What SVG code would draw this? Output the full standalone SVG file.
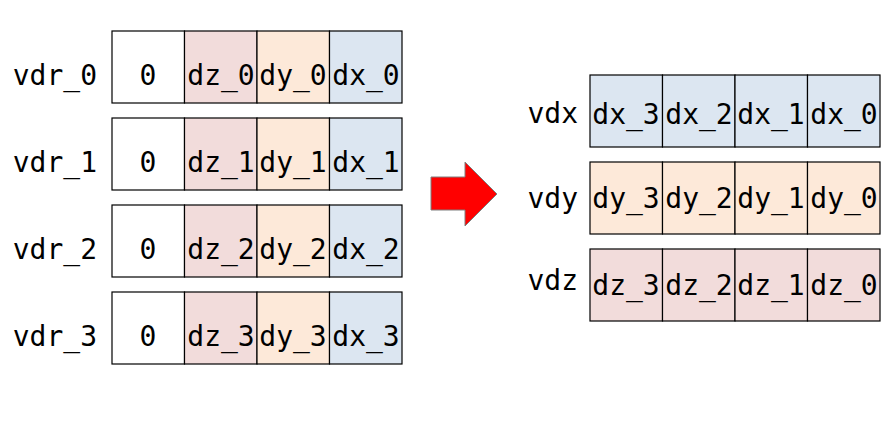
<svg xmlns="http://www.w3.org/2000/svg" width="891" height="424" viewBox="0 0 891 424">
<style>
.c{stroke:#000;stroke-width:1.2}
.w{fill:#fff}.z{fill:#F2DCDB}.y{fill:#FDE9D9}.x{fill:#DCE6F1}
text{font-family:"DejaVu Sans Mono","Liberation Mono",monospace;font-size:28px;fill:#000}
.m{text-anchor:middle}.e{text-anchor:end}
</style>
<rect width="891" height="424" fill="#fff"/>
<g id="vdr_0">
<text class="e" x="97" y="85">vdr_0</text>
<rect class="c w" x="112" y="31" width="72.5" height="72"/><rect class="c z" x="184.5" y="31" width="72.5" height="72"/><rect class="c y" x="257" y="31" width="72.5" height="72"/><rect class="c x" x="329.5" y="31" width="72.5" height="72"/>
<text class="m" x="148" y="85">0</text><text class="m" x="221" y="85">dz_0</text><text class="m" x="293" y="85">dy_0</text><text class="m" x="366" y="85">dx_0</text>
</g>
<g id="vdr_1">
<text class="e" x="97" y="172">vdr_1</text>
<rect class="c w" x="112" y="118" width="72.5" height="72"/><rect class="c z" x="184.5" y="118" width="72.5" height="72"/><rect class="c y" x="257" y="118" width="72.5" height="72"/><rect class="c x" x="329.5" y="118" width="72.5" height="72"/>
<text class="m" x="148" y="172">0</text><text class="m" x="221" y="172">dz_1</text><text class="m" x="293" y="172">dy_1</text><text class="m" x="366" y="172">dx_1</text>
</g>
<g id="vdr_2">
<text class="e" x="97" y="259">vdr_2</text>
<rect class="c w" x="112" y="205" width="72.5" height="72"/><rect class="c z" x="184.5" y="205" width="72.5" height="72"/><rect class="c y" x="257" y="205" width="72.5" height="72"/><rect class="c x" x="329.5" y="205" width="72.5" height="72"/>
<text class="m" x="148" y="259">0</text><text class="m" x="221" y="259">dz_2</text><text class="m" x="293" y="259">dy_2</text><text class="m" x="366" y="259">dx_2</text>
</g>
<g id="vdr_3">
<text class="e" x="97" y="346">vdr_3</text>
<rect class="c w" x="112" y="292" width="72.5" height="72"/><rect class="c z" x="184.5" y="292" width="72.5" height="72"/><rect class="c y" x="257" y="292" width="72.5" height="72"/><rect class="c x" x="329.5" y="292" width="72.5" height="72"/>
<text class="m" x="148" y="346">0</text><text class="m" x="221" y="346">dz_3</text><text class="m" x="293" y="346">dy_3</text><text class="m" x="366" y="346">dx_3</text>
</g>
<g id="connectors">
<polygon points="431,177 465,177 465,162 497,194 465,226 465,210 431,210" fill="#FF0000" stroke="#7f7f7f" stroke-width="1"/>
</g>
<g id="vdx">
<text class="e" x="578" y="123">vdx</text>
<rect class="c x" x="590" y="75" width="72.5" height="72"/><rect class="c x" x="662.5" y="75" width="72.5" height="72"/><rect class="c x" x="735" y="75" width="72.5" height="72"/><rect class="c x" x="807.5" y="75" width="72.5" height="72"/>
<text class="m" x="626" y="124">dx_3</text><text class="m" x="699" y="124">dx_2</text><text class="m" x="771" y="124">dx_1</text><text class="m" x="844" y="124">dx_0</text>
</g>
<g id="vdy">
<text class="e" x="578" y="208">vdy</text>
<rect class="c y" x="590" y="162" width="72.5" height="72"/><rect class="c y" x="662.5" y="162" width="72.5" height="72"/><rect class="c y" x="735" y="162" width="72.5" height="72"/><rect class="c y" x="807.5" y="162" width="72.5" height="72"/>
<text class="m" x="626" y="208">dy_3</text><text class="m" x="699" y="208">dy_2</text><text class="m" x="771" y="208">dy_1</text><text class="m" x="844" y="208">dy_0</text>
</g>
<g id="vdz">
<text class="e" x="578" y="290">vdz</text>
<rect class="c z" x="590" y="249" width="72.5" height="72"/><rect class="c z" x="662.5" y="249" width="72.5" height="72"/><rect class="c z" x="735" y="249" width="72.5" height="72"/><rect class="c z" x="807.5" y="249" width="72.5" height="72"/>
<text class="m" x="626" y="295">dz_3</text><text class="m" x="699" y="295">dz_2</text><text class="m" x="771" y="295">dz_1</text><text class="m" x="844" y="295">dz_0</text>
</g>
</svg>
